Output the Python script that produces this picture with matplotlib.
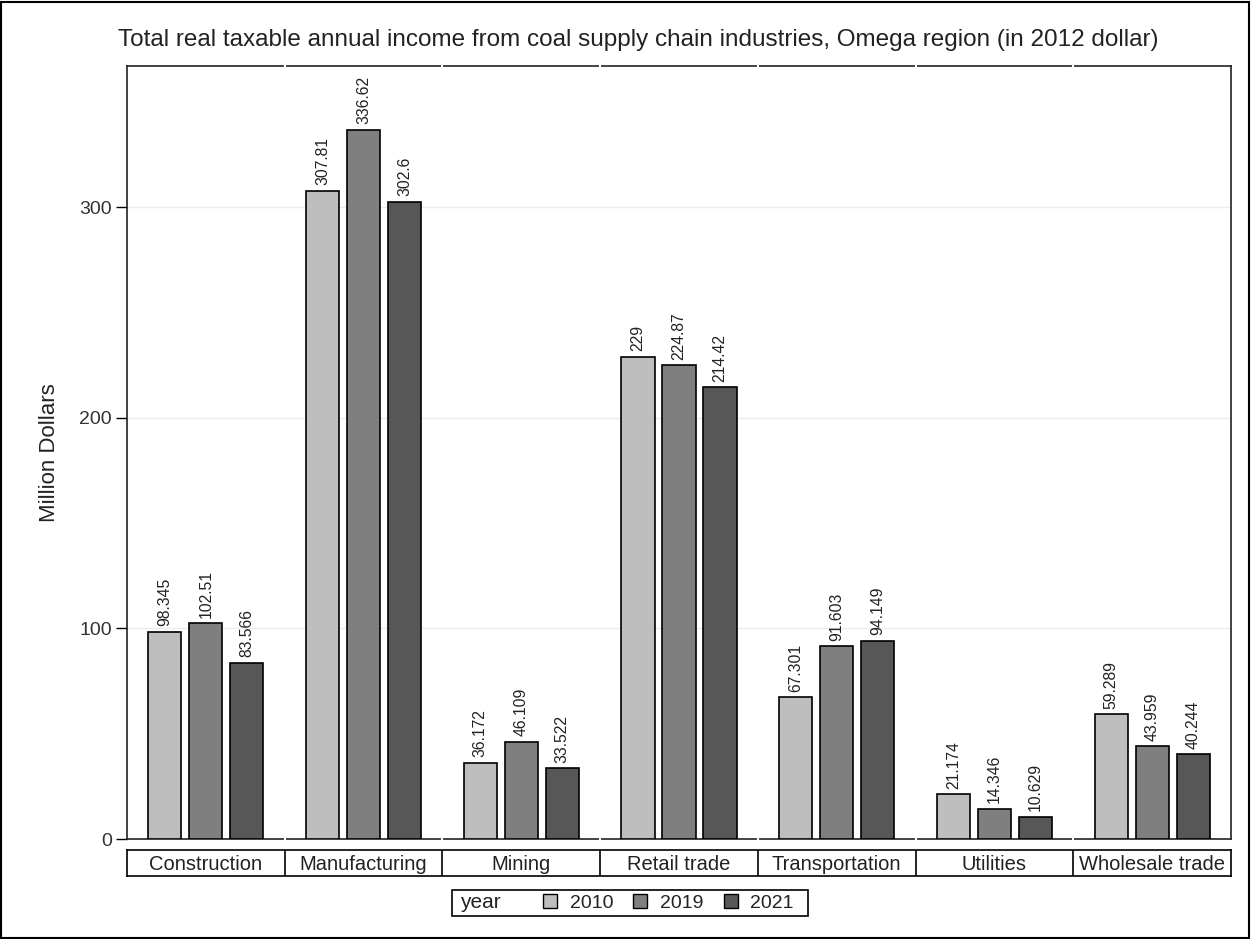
"""
Grouped bar chart: coal supply chain income by industry and year.
"""

import matplotlib.pyplot as plt
from matplotlib.patches import Rectangle
from matplotlib.lines import Line2D

plt.rcParams['font.family'] = ['Liberation Sans', 'DejaVu Sans']

# data
industries = ['Construction', 'Manufacturing', 'Mining', 'Retail trade',
              'Transportation', 'Utilities', 'Wholesale trade']
years = ['2010', '2019', '2021']
inc_2010 = [98.345, 307.81, 36.172, 229, 67.301, 21.174, 59.289]
inc_2019 = [102.51, 336.62, 46.109, 224.87, 91.603, 14.346, 43.959]
inc_2021 = [83.566, 302.6, 33.522, 214.42, 94.149, 10.629, 40.244]
series = [inc_2010, inc_2019, inc_2021]

# colours
COLORS = ['#bebebe', '#7f7f7f', '#575757']
GRID = '#ececec'
TEXT = '#222222'

W, H = 1251, 939
fig = plt.figure(figsize=(W / 100, H / 100), dpi=100)


def px_axes(x0, y0, x1, y1):
    # axes from pixel box (top-left origin)
    return fig.add_axes([x0 / W, 1 - y1 / H, (x1 - x0) / W, (y1 - y0) / H])


ax = px_axes(127, 66, 1231, 839)
n = len(industries)
xs = list(range(n))
bw = 0.21
step = 0.26
for k, vals in enumerate(series):
    pos = [x + (k - 1) * step for x in xs]
    bars = ax.bar(pos, vals, width=bw, color=COLORS[k], edgecolor='black',
                  linewidth=1.2, zorder=3)
    for b, v in zip(bars, vals):
        ax.annotate('%g' % v, (b.get_x() + b.get_width() / 2, v),
                    xytext=(0, 4), textcoords='offset points',
                    rotation=90, ha='center', va='bottom', fontsize=11.3,
                    color=TEXT)

ax.set_xlim(-0.5, n - 0.5)
ax.set_ylim(0, 367)
ax.set_yticks([0, 100, 200, 300])
ax.set_xticks([])
ax.tick_params(axis='y', labelsize=14, length=8, width=1,
               labelcolor='#333333', color='black', pad=3)
ax.yaxis.grid(True, color=GRID, linewidth=1, zorder=0)
ax.set_axisbelow(True)
for s in ax.spines.values():
    s.set_linewidth(1.2)
    s.set_color(TEXT)
ax.set_ylabel('Million Dollars', fontsize=16, labelpad=14, color=TEXT)

# small white gaps on the frame between panels
for b in range(1, n):
    for yv in (0, 367):
        ax.plot([b - 0.5, b - 0.5], [yv - 2, yv + 2], color='white',
                linewidth=1.5, clip_on=False, zorder=5)

# category label boxes
cax = px_axes(127, 850, 1231, 876)
cax.set_xlim(-0.5, n - 0.5)
cax.set_ylim(0, 1)
cax.set_xticks([])
cax.set_yticks([])
for s in cax.spines.values():
    s.set_linewidth(1.2)
for b in range(1, n):
    cax.axvline(b - 0.5, color='black', linewidth=1.2)
for x, name in zip(xs, industries):
    cax.text(x, 0.45, name, ha='center', va='center', fontsize=14.5,
             color=TEXT)

# title
fig.text(638 / W, 1 - 40 / H,
         'Total real taxable annual income from coal supply chain industries, '
         'Omega region (in 2012 dollar)',
         ha='center', va='center', fontsize=17.5, color=TEXT)

# legend box
fig.patches.append(Rectangle((452 / W, 1 - 916 / H), 356 / W, 26 / H,
                             transform=fig.transFigure, fill=False,
                             edgecolor='black', linewidth=1.2))
fig.text(460 / W, 1 - 903 / H, 'year', ha='left', va='center', fontsize=15,
         color=TEXT)
handles = [Line2D([], [], linestyle='none', marker='s', markersize=9.5,
                  markerfacecolor=c, markeredgecolor='black',
                  markeredgewidth=1) for c in COLORS]
fig.legend(handles, years, loc='center', ncol=3,
           bbox_to_anchor=(668 / W, 1 - 903 / H), frameon=False,
           fontsize=14, handlelength=0.8, handletextpad=0.6,
           columnspacing=1.0, borderpad=0, labelcolor=TEXT)

# outer border
fig.patches.append(Rectangle((1 / W, 1 / H), (W - 3) / W, (H - 3) / H,
                             transform=fig.transFigure, fill=False,
                             edgecolor='black', linewidth=1.5))

plt.savefig('out.png', dpi=100)
